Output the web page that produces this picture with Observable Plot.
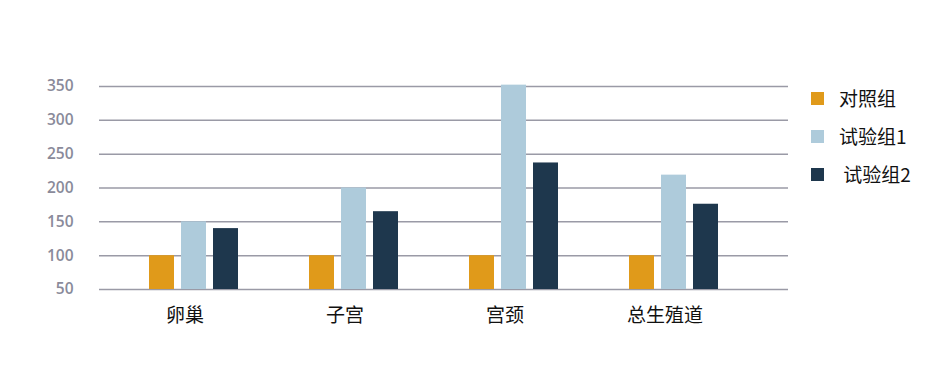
<!DOCTYPE html>
<html>
<head>
<meta charset="utf-8">
<script src="https://cdn.jsdelivr.net/npm/d3@7"></script>
<script src="https://cdn.jsdelivr.net/npm/@observablehq/plot@0.6"></script>
<style>
  body { margin: 0; background: #fff; }
  #wrap { position: relative; width: 931px; height: 365px; }
  #legend { position: absolute; left: 811px; top: 79px; font-family: "Noto Sans CJK SC", sans-serif; font-size: 19px; color: #111; }
  .item { display: flex; align-items: center; height: 38px; line-height: 38px; }
  .sw { width: 13px; height: 13px; margin-right: 15px; flex: none; }
</style>
</head>
<body>
<div id="wrap"></div>
<script>
const categories = ["卵巢", "子宫", "宫颈", "总生殖道"];
const groups = ["对照组", "试验组1", "试验组2"];
const legendLabels = ["对照组", "试验组1", "\u00a0试验组2"];
const control = [100, 100, 100, 100];
const trial1 = [150, 200, 352, 219];
const trial2 = [140, 165, 237, 176];
const yTicks = [50, 100, 150, 200, 250, 300, 350];
const colors = ["#E09A1A", "#AECBDB", "#1E374D"];

const series = [control, trial1, trial2];
const rows = [];
const domain = [];
categories.forEach((c, i) => {
  groups.forEach((g, j) => {
    const key = c + "|" + g;
    domain.push(key);
    rows.push({cat: c, group: g, key, value: series[j][i]});
  });
  if (i < categories.length - 1) domain.push("gap" + i + "a", "gap" + i + "b");
});

const chart = Plot.plot({
  width: 931,
  height: 365,
  marginLeft: 99,
  marginRight: 143,
  marginTop: 86,
  marginBottom: 76,
  style: {fontFamily: "Open Sans, sans-serif", background: "#fff"},
  x: {type: "band", domain, range: [146, 720], paddingInner: 0.23, paddingOuter: 0},
  y: {domain: [50, 350], label: null},
  color: {domain: groups, range: colors},
  marks: [
    Plot.ruleY(yTicks, {stroke: "#9a9aa6", strokeWidth: 1.5}),
    Plot.barY(rows, {x: "key", y1: 50, y2: "value", fill: "group"}),
    Plot.axisY({ticks: yTicks, tickSize: 0, tickPadding: 26, label: null, fontSize: 15.5, fontWeight: 600, fill: "#8a8a9a"}),
    Plot.axisX({ticks: categories.map(c => c + "|" + groups[1]), tickFormat: k => k.split("|")[0], tickSize: 0, tickPadding: 19, fontSize: 19, fill: "#111", dx: -9, label: null, fontFamily: "Noto Sans CJK SC"})
  ]
});

const wrap = document.getElementById("wrap");
wrap.appendChild(chart);
const legend = document.createElement("div");
legend.id = "legend";
groups.forEach((g, j) => {
  const it = document.createElement("div");
  it.className = "item";
  const sw = document.createElement("span");
  sw.className = "sw";
  sw.style.background = colors[j];
  const t = document.createElement("span");
  t.textContent = legendLabels[j];
  it.appendChild(sw);
  it.appendChild(t);
  legend.appendChild(it);
});
wrap.appendChild(legend);
</script>
</body>
</html>
